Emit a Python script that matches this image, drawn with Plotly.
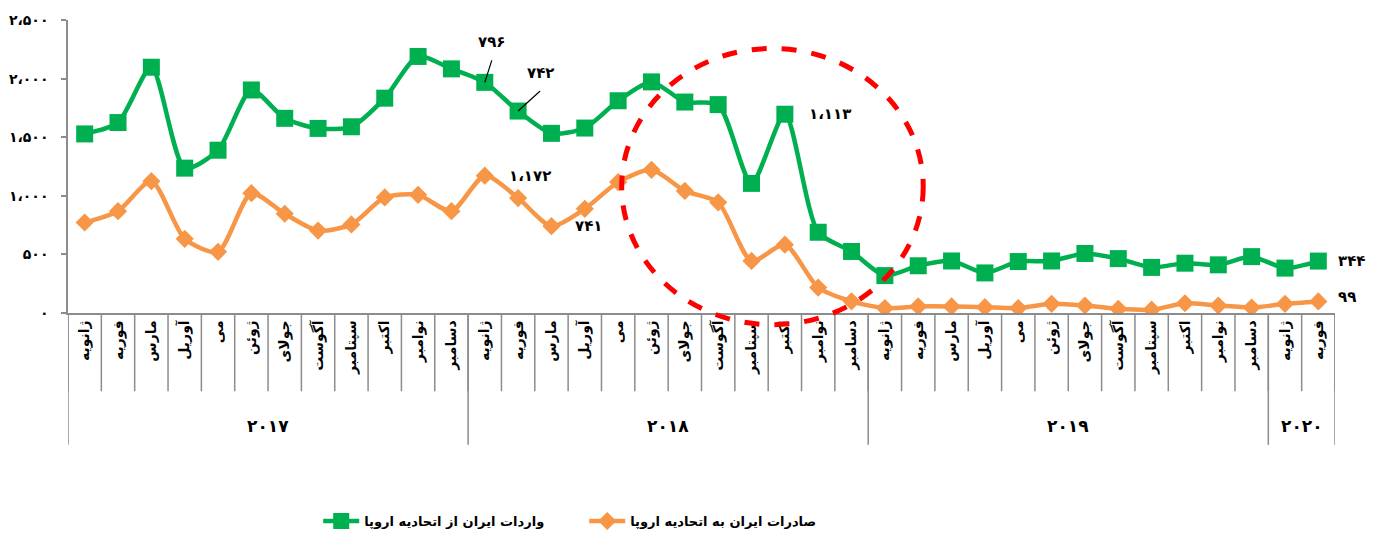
import plotly.graph_objects as go

months = ["ژانویه", "فوریه", "مارس", "آوریل", "می", "ژوئن", "جولای", "آگوست", "سپتامبر", "اکتبر", "نوامبر", "دسامبر"]
years = ["۲۰۱۷", "۲۰۱۸", "۲۰۱۹", "۲۰۲۰"]
months_per_year = [12, 12, 12, 2]

month_labels = []
for n in months_per_year:
    month_labels += months[:n]

imports_eu = [1528, 1625, 2097, 1236, 1389, 1903, 1661, 1575, 1589, 1833, 2189, 2083,
              1968, 1723, 1533, 1578, 1811, 1972, 1800, 1778, 1106, 1696, 689, 525,
              319, 403, 444, 342, 439, 444, 508, 464, 389, 425, 411, 481,
              383, 443]
exports_eu = [772, 869, 1125, 633, 522, 1022, 847, 703, 756, 986, 1008, 869,
              1172, 981, 741, 889, 1117, 1222, 1042, 944, 444, 583, 217, 100,
              42, 56, 56, 50, 42, 78, 64, 36, 28, 83, 64, 47,
              78, 99]

yticks = [0, 500, 1000, 1500, 2000, 2500]
yticktext = ["۰", "۵۰۰", "۱،۰۰۰", "۱،۵۰۰", "۲،۰۰۰", "۲،۵۰۰"]

name_imports = "واردات ایران از اتحادیه اروپا"
name_exports = "صادرات ایران به اتحادیه اروپا"

FONT = "DejaVu Sans"
GREEN = "#00B050"
ORANGE = "#F79646"
GRAY = "#8C8C8C"

x = list(range(len(month_labels)))

fig = go.Figure()
fig.add_trace(go.Scatter(
    x=x, y=imports_eu, name=name_imports, mode="lines+markers",
    line=dict(color=GREEN, width=4.5, shape="spline", smoothing=0.7),
    marker=dict(symbol="square", size=17, color=GREEN),
))
fig.add_trace(go.Scatter(
    x=x, y=exports_eu, name=name_exports, mode="lines+markers",
    line=dict(color=ORANGE, width=4.5, shape="spline", smoothing=0.7),
    marker=dict(symbol="diamond", size=14, color=ORANGE),
))

shapes = []
for i in range(len(month_labels) + 1):
    shapes.append(dict(type="line", xref="x", yref="paper", x0=i - 0.5, x1=i - 0.5,
                       y0=0, y1=-0.267, line=dict(color=GRAY, width=1.5), layer="below"))
b = 0
bounds = [0]
for n in months_per_year:
    b += n
    bounds.append(b)
for bd in bounds:
    shapes.append(dict(type="line", xref="x", yref="paper", x0=bd - 0.5, x1=bd - 0.5,
                       y0=0, y1=-0.45, line=dict(color=GRAY, width=1.5), layer="below"))
shapes.append(dict(type="circle", xref="paper", yref="paper",
                   x0=0.437, x1=0.675, y0=-0.04, y1=0.903,
                   line=dict(color="#FF0000", width=5, dash="dash"), layer="above"))

annotations = []
for k, yname in enumerate(years):
    center = (bounds[k] + bounds[k + 1] - 1) / 2
    annotations.append(dict(x=center, y=-0.385, xref="x", yref="paper", text=yname,
                            yanchor="middle", xanchor="center",
                            showarrow=False, font=dict(family=FONT, size=17, color="black", weight="bold")))

lab_font = dict(family=FONT, size=15, color="black", weight="bold")

def fa(v):
    d = "۰۱۲۳۴۵۶۷۸۹"
    s = f"{v:,}".replace(",", "،")
    return "".join(d[int(c)] if c.isdigit() else c for c in s)

annotations.append(dict(x=12, y=imports_eu[12], text=fa(796),
                        showarrow=True, ax=7, ay=-22, arrowhead=0, arrowwidth=1.2, arrowcolor="black",
                        xanchor="center", yanchor="bottom", borderpad=8, font=lab_font))
annotations.append(dict(x=13, y=imports_eu[13], text=fa(742),
                        showarrow=True, ax=22, ay=-20, arrowhead=0, arrowwidth=1.2, arrowcolor="black",
                        xanchor="center", yanchor="bottom", borderpad=8, font=lab_font))
annotations.append(dict(x=21, y=imports_eu[21], text=fa(1113), showarrow=False,
                        xanchor="left", xshift=22, font=lab_font))
annotations.append(dict(x=37, y=imports_eu[37], text=fa(344), showarrow=False,
                        xanchor="left", xshift=18, font=lab_font))
annotations.append(dict(x=12, y=exports_eu[12], text=fa(1172), showarrow=False,
                        xanchor="left", xshift=22, font=lab_font))
annotations.append(dict(x=14, y=exports_eu[14], text=fa(741), showarrow=False,
                        xanchor="left", xshift=22, font=lab_font))
annotations.append(dict(x=37, y=exports_eu[37], text=fa(99), showarrow=False,
                        xanchor="left", xshift=18, yshift=4, font=lab_font))

fig.update_layout(
    width=1389, height=548,
    margin=dict(l=68, r=54, t=20, b=228),
    paper_bgcolor="white", plot_bgcolor="white",
    showlegend=True,
    legend=dict(orientation="h", x=0.1975, xanchor="left", y=-0.71, yanchor="middle",
                font=dict(family=FONT, size=13, color="black", weight="bold"),
                entrywidth=215, itemwidth=36,
                traceorder="normal"),
    shapes=shapes, annotations=annotations,
)
fig.update_xaxes(range=[-0.5, len(month_labels) - 0.5], tickmode="array", tickvals=x,
                 ticktext=month_labels, tickangle=-90, ticks="", showgrid=False, zeroline=False,
                 showline=True, linecolor=GRAY, linewidth=1.5, automargin=False,
                 tickfont=dict(family=FONT, size=14, color="black", weight="bold"))
fig.update_yaxes(range=[0, 2500], tickmode="array", tickvals=yticks, ticktext=yticktext,
                 ticks="outside", ticklen=5, tickcolor=GRAY, tickwidth=1.5,
                 showgrid=False, zeroline=False, showline=True, linecolor=GRAY, linewidth=1.5,
                 ticklabelstandoff=10, automargin=False,
                 tickfont=dict(family=FONT, size=14, color="black", weight="bold"))

fig.write_html("out.html", config={"displayModeBar": False},
               post_script="document.body.style.margin='0';document.body.style.padding='0';")
